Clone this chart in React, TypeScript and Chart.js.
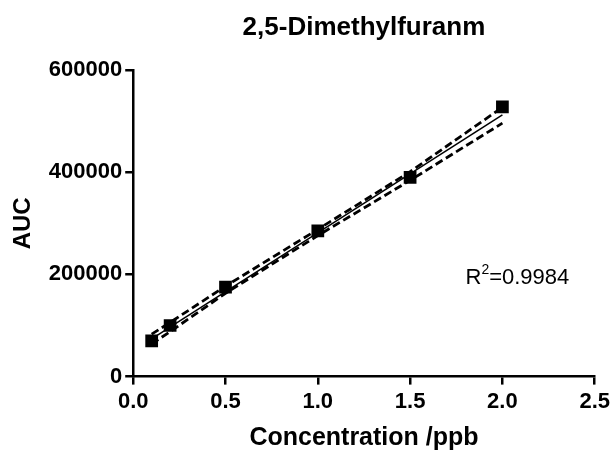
import React, { useEffect, useRef } from "react";
import { Chart, registerables } from "chart.js";

Chart.register(...registerables);

const TITLE = "2,5-Dimethylfuranm";
const X_TITLE = "Concentration /ppb";
const Y_TITLE = "AUC";
const R2_LABEL = "0.9984";

const concentrations = [0.1, 0.2, 0.5, 1.0, 1.5, 2.0];
const aucValues = [70000, 100000, 175000, 285000, 390000, 528000];

const fitX = [0.1, 2.0];
const fitY = [74000, 512000];

const bandX = [0.1, 0.2, 0.5, 1.0, 1.5, 2.0];
const bandUpper = [83000, 106000, 177000, 288000, 401000, 527000];
const bandLower = [64000, 88000, 163000, 276000, 384000, 496000];

const FONT = "'Liberation Sans', Arial, sans-serif";

const textPlugin = {
  id: "texts",
  afterDraw(chart: any) {
    const { ctx, scales, chartArea } = chart;
    ctx.save();
    ctx.fillStyle = "#000";
    ctx.font = `bold 26px ${FONT}`;
    ctx.textAlign = "center";
    ctx.textBaseline = "middle";
    ctx.fillText(TITLE, (chartArea.left + chartArea.right) / 2, 28);
    const x = scales.x.getPixelForValue(1.8);
    const y = scales.y.getPixelForValue(200000);
    ctx.textBaseline = "alphabetic";
    ctx.textAlign = "left";
    ctx.font = `22px ${FONT}`;
    const base = y + 10;
    ctx.fillText("R", x, base);
    const rw = ctx.measureText("R").width;
    ctx.font = `14px ${FONT}`;
    ctx.fillText("2", x + rw, base - 10);
    const sw = ctx.measureText("2").width;
    ctx.font = `22px ${FONT}`;
    ctx.fillText("=" + R2_LABEL, x + rw + sw, base);
    ctx.restore();
  },
};

export default function App() {
  const ref = useRef<HTMLCanvasElement>(null);
  useEffect(() => {
    if (!ref.current) return;
    const chart = new Chart(ref.current, {
      type: "scatter",
      data: {
        datasets: [
          {
            label: "data",
            data: concentrations.map((c, i) => ({ x: c, y: aucValues[i] })),
            pointStyle: "rect",
            pointRadius: 9,
            backgroundColor: "#000",
            borderColor: "#000",
            borderWidth: 0,
            showLine: false,
          },
          {
            label: "fit",
            data: fitX.map((c, i) => ({ x: c, y: fitY[i] })),
            showLine: true,
            borderColor: "#000",
            borderWidth: 1.5,
            pointRadius: 0,
          },
          {
            label: "upper",
            data: bandX.map((c, i) => ({ x: c, y: bandUpper[i] })),
            showLine: true,
            borderColor: "#000",
            borderWidth: 2.8,
            borderDash: [8, 4],
            pointRadius: 0,
          },
          {
            label: "lower",
            data: bandX.map((c, i) => ({ x: c, y: bandLower[i] })),
            showLine: true,
            borderColor: "#000",
            borderWidth: 2.8,
            borderDash: [8, 4],
            pointRadius: 0,
          },
        ],
      },
      options: {
        animation: false,
        responsive: false,
        layout: { padding: { left: 9, right: 6, top: 70, bottom: 0 } },
        plugins: {
          legend: { display: false },
          tooltip: { enabled: false },
          title: { display: false },
        },
        scales: {
          x: {
            type: "linear",
            min: 0,
            max: 2.5,
            ticks: {
              stepSize: 0.5,
              color: "#000",
              font: { family: FONT, size: 22, weight: "bold" },
              padding: 4,
              callback: (v: any) => Number(v).toFixed(1),
            },
            grid: {
              drawOnChartArea: false,
              drawTicks: true,
              tickLength: 8,
              color: "#000",
              lineWidth: 2.5,
            },
            border: { display: true, color: "#000", width: 2.5 },
            title: {
              display: true,
              text: X_TITLE,
              color: "#000",
              font: { family: FONT, size: 25, weight: "bold" },
              padding: { top: 4, bottom: 0 },
            },
          },
          y: {
            type: "linear",
            min: 0,
            max: 600000,
            ticks: {
              stepSize: 200000,
              color: "#000",
              font: { family: FONT, size: 22, weight: "bold" },
              padding: 3,
              callback: (v: any) => String(v),
            },
            grid: {
              drawOnChartArea: false,
              drawTicks: true,
              tickLength: 8,
              color: "#000",
              lineWidth: 2.5,
            },
            border: { display: true, color: "#000", width: 2.5 },
            title: {
              display: true,
              text: Y_TITLE,
              color: "#000",
              font: { family: FONT, size: 24, weight: "bold" },
              padding: { top: 0, bottom: 8 },
            },
          },
        },
      },
      plugins: [textPlugin],
    });
    return () => chart.destroy();
  }, []);
  return (
    <div style={{ position: "fixed", left: 0, top: 0, width: 614, height: 453, background: "#fff" }}>
      <canvas ref={ref} width={614} height={453} style={{ width: 614, height: 453 }} />
    </div>
  );
}
